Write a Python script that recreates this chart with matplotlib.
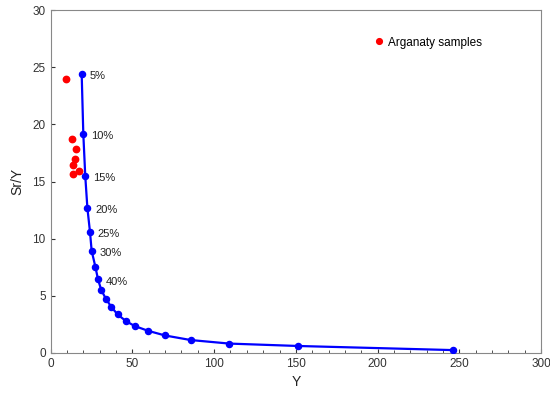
import matplotlib
matplotlib.use("Agg")
import matplotlib.pyplot as plt
from matplotlib.ticker import MultipleLocator

plt.rcParams['font.family'] = ['Liberation Sans', 'DejaVu Sans']

# melting curve (Y vs Sr/Y), degree of melting labels
curve_y = [19.0, 20.0, 21.2, 22.5, 24.1, 25.1, 27.4, 29.0, 31.0, 33.9, 37.2,
           41.0, 46.1, 51.4, 59.6, 70.0, 85.7, 109.3, 151.3, 246.0]
curve_sry = [24.46, 19.18, 15.47, 12.67, 10.57, 8.93, 7.52, 6.42, 5.49, 4.70,
             4.00, 3.35, 2.77, 2.34, 1.92, 1.51, 1.11, 0.80, 0.59, 0.23]
pct_labels = {0: "5%", 1: "10%", 2: "15%", 3: "20%", 4: "25%", 5: "30%", 7: "40%"}

# Arganaty samples
samp_y = [9.6, 12.9, 15.7, 15.1, 13.5, 17.3, 13.5]
samp_sry = [24.02, 18.71, 17.84, 16.96, 16.44, 15.96, 15.70]

fig = plt.figure(figsize=(5.5, 3.99), dpi=100)
ax = fig.add_axes([0.092, 0.116, 0.892, 0.858])

ax.plot(curve_y, curve_sry, color='#0000ff', lw=1.6, marker='o', ms=4.4, zorder=3)
ax.plot(samp_y, samp_sry, ls='none', color='#ff0000', marker='o', ms=4.6,
        label="Arganaty samples", zorder=4)

for i, txt in pct_labels.items():
    ax.annotate(txt, (curve_y[i], curve_sry[i]), xytext=(5.5, -1.5),
                textcoords='offset points', fontsize=8, va='center', ha='left',
                color='#222222')

ax.set_xlim(0, 300)
ax.set_ylim(0, 30)
ax.xaxis.set_major_locator(MultipleLocator(50))
ax.xaxis.set_minor_locator(MultipleLocator(10))
ax.yaxis.set_major_locator(MultipleLocator(5))
ax.tick_params(which='both', direction='in', labelsize=8.5, colors='#333333')
ax.tick_params(which='major', length=3)
ax.tick_params(which='minor', length=2.2)
for sp in ax.spines.values():
    sp.set_color('#888888')

ax.set_xlabel("Y", fontsize=10, color='#222222', labelpad=4)
ax.set_ylabel("Sr/Y", fontsize=10, color='#222222', labelpad=6)

ax.legend(loc='center left', bbox_to_anchor=(0.663, 0.906), frameon=False,
          fontsize=8.5, handlelength=0.6, handletextpad=0.46, borderpad=0,
          borderaxespad=0, markerscale=0.9)

fig.savefig("out.png", dpi=100)
